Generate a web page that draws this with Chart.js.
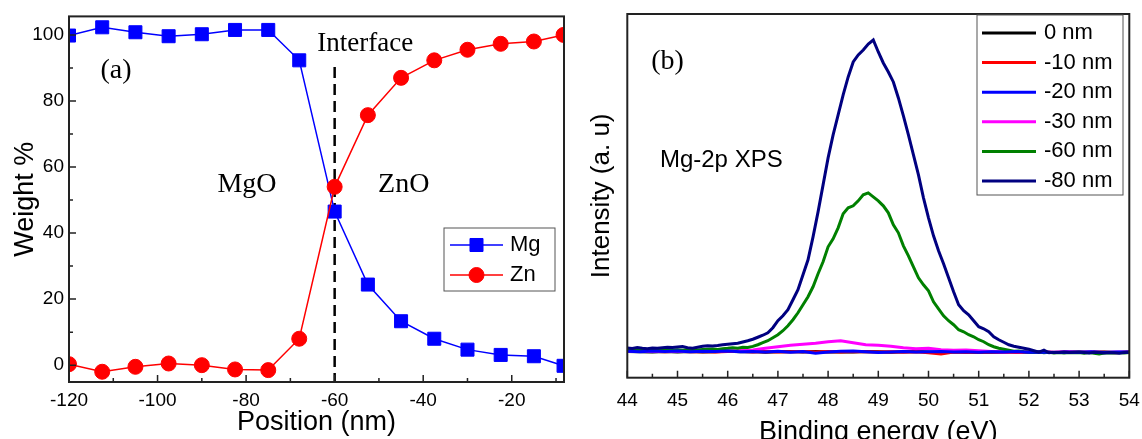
<!DOCTYPE html>
<html lang="en">
<head>
<meta charset="UTF-8">
<title>MgO / ZnO interface - EDX and XPS</title>
<script src="https://cdn.jsdelivr.net/npm/chart.js"></script>
<style>
  html, body { margin: 0; padding: 0; background: #fff; overflow: hidden; }
  #chartA { position: absolute; left: 0; top: 0; }
  #chartB { position: absolute; left: 575px; top: 0; }
</style>
</head>
<body>
<canvas id="chartA" width="575" height="439"></canvas>
<canvas id="chartB" width="567" height="450"></canvas>
<script>
// ---- (a) weight % across the interface ----
const position = [-120, -112.5, -105, -97.5, -90, -82.5, -75, -68, -60, -52.5, -45, -37.5, -30, -22.5, -15, -8.3];
const mgWeight = [99.8, 102.3, 100.8, 99.6, 100.2, 101.5, 101.5, 92.3, 46.5, 24.4, 13.3, 8.0, 4.7, 3.1, 2.7, -0.2];
const znWeight = [0.3, -2.0, -0.5, 0.5, 0, -1.3, -1.5, 8.0, 54.0, 75.7, 87.0, 92.3, 95.5, 97.3, 98.0, 100];
const interfaceX = -60;
const interfaceTop = 90.3;

// ---- (b) Mg-2p XPS depth profile ----
const energyFine = [
  44.0, 44.1, 44.2, 44.3, 44.4, 44.5, 44.6, 44.7, 44.8, 44.9,
  45.0, 45.1, 45.2, 45.3, 45.4, 45.5, 45.6, 45.7, 45.8, 45.9,
  46.0, 46.1, 46.2, 46.3, 46.4, 46.5, 46.6, 46.7, 46.8, 46.9,
  47.0, 47.1, 47.2, 47.3, 47.4, 47.5, 47.6, 47.7, 47.8, 47.9,
  48.0, 48.1, 48.2, 48.3, 48.4, 48.5, 48.6, 48.7, 48.8, 48.9,
  49.0, 49.1, 49.2, 49.3, 49.4, 49.5, 49.6, 49.7, 49.8, 49.9,
  50.0, 50.1, 50.2, 50.3, 50.4, 50.5, 50.6, 50.7, 50.8, 50.9,
  51.0, 51.1, 51.2, 51.3, 51.4, 51.5, 51.6, 51.7, 51.8, 51.9,
  52.0, 52.1, 52.2, 52.3, 52.4, 52.5, 52.6, 52.7, 52.8, 52.9,
  53.0, 53.1, 53.2, 53.3, 53.4, 53.5, 53.6, 53.7, 53.8, 53.9, 54.0
];
const energyCoarse = [
  44.0, 44.25, 44.5, 44.75, 45.0, 45.25, 45.5, 45.75, 46.0, 46.25,
  46.5, 46.75, 47.0, 47.25, 47.5, 47.75, 48.0, 48.25, 48.5, 48.75,
  49.0, 49.25, 49.5, 49.75, 50.0, 50.25, 50.5, 50.75, 51.0, 51.25,
  51.5, 51.75, 52.0, 52.25, 52.5, 52.75, 53.0, 53.25, 53.5, 53.75, 54.0
];
const depth0 = [26.3, 26.0, 25.6, 26.2, 25.8, 26.1, 25.7, 26.0, 26.4, 25.9, 26.2, 25.5, 26.0, 26.3, 25.8, 26.1, 25.6, 26.0, 25.7, 26.2, 25.9, 25.4, 25.9, 26.1, 25.6, 25.3, 25.9, 25.6, 25.2, 25.8, 25.5, 25.9, 25.3, 25.6, 25.1, 25.5, 25.8, 25.2, 25.6, 25.3, 25.6];
const depth10 = [26.6, 26.2, 26.5, 25.9, 26.4, 26.0, 26.3, 25.7, 26.1, 26.5, 25.8, 26.2, 25.6, 26.0, 26.3, 25.7, 26.1, 25.8, 26.3, 25.9, 25.6, 26.0, 25.5, 25.9, 25.0, 23.8, 25.6, 25.2, 25.8, 25.4, 25.7, 25.1, 25.5, 25.9, 25.3, 25.6, 25.2, 25.7, 25.4, 25.0, 25.7];
const depth20 = [26.5, 26.0, 26.8, 26.2, 26.6, 25.9, 26.4, 26.1, 26.7, 26.0, 26.3, 25.8, 26.5, 25.5, 26.2, 24.6, 25.8, 26.4, 26.8, 26.0, 25.3, 25.8, 26.2, 25.6, 25.9, 26.3, 25.7, 26.0, 25.4, 25.9, 25.6, 26.1, 25.5, 25.8, 25.2, 25.7, 25.4, 25.9, 25.3, 25.6, 25.8];
const depth30 = [26.5, 26.8, 26.2, 26.6, 26.3, 26.7, 26.4, 26.6, 26.9, 27.2, 27.8, 29.5, 31.0, 32.5, 33.5, 34.5, 36.0, 37.0, 35.0, 33.0, 32.5, 31.5, 30.0, 29.0, 29.5, 28.0, 27.5, 27.8, 27.0, 26.2, 25.8, 26.2, 25.6, 25.8, 25.4, 25.9, 25.5, 25.8, 25.3, 25.7, 25.5];
const depth60 = [
  27.5, 28.0, 27.2, 27.8, 27.4, 28.0, 27.6, 27.2, 27.7, 27.4,
  27.9, 27.5, 28.0, 28.4, 27.8, 28.2, 28.5, 28.8, 28.2, 29.0,
  29.4, 30.0, 29.6, 30.4, 30.2, 31.3, 33, 35, 37, 40,
  43, 47, 52, 58, 65, 73, 81, 91, 104, 116,
  131, 139, 150, 164, 170, 172, 177, 183, 185, 181,
  177, 172, 165, 153, 145, 132, 122, 111, 100, 93,
  87, 76, 69, 62, 57, 53, 48, 46, 43, 41,
  38, 36, 33, 31, 29.5, 28.5, 27.5, 26.5, 26.8, 26.0,
  25.5, 25.2, 25.8, 25.0, 25.4, 24.8, 25.2, 24.7, 25.3, 24.9,
  25.2, 24.5, 25.1, 24.4, 23.8, 24.6, 25.0, 24.7, 25.1, 24.8, 25.2
];
const depth80 = [
  29.7, 29.2, 30.2, 29.5, 29.0, 29.8, 29.4, 30.0, 30.4, 30.2,
  30.8, 31.2, 30.0, 29.5, 30.5, 31.4, 32.0, 31.8, 32.2, 33.0,
  33.5, 34.0, 34.5, 35.8, 37.0, 38.5, 40.5, 42.5, 45, 50,
  57, 62, 68, 78, 88, 103, 118, 141, 166, 193,
  220, 243, 263, 283, 301, 316, 323, 328, 334, 338,
  326, 315, 306, 296, 280, 262, 243, 223, 203, 180,
  160, 142, 127, 114, 100, 86, 73, 67, 63, 57,
  51, 49, 46, 41, 38, 35.5, 33, 31.5, 30.5, 29.5,
  28.5, 27, 25.5, 27.5, 25, 25.5, 25.2, 25.8, 25.2, 25.5,
  25.7, 25.2, 24.8, 25.4, 25.2, 24.7, 25.3, 25.0, 24.6, 25.2, 25.5
];

function pts(xs, ys) {
  return xs.map((v, i) => ({ x: v, y: ys[i] }));
}

Chart.defaults.font.family = 'Liberation Sans, Arial, sans-serif';
Chart.defaults.color = '#000';
Chart.defaults.animation = false;

// frame, inward ticks, free text and a hand placed legend
const decor = {
  id: 'decor',
  afterDatasetsDraw(chart, args, o) {
    const { ctx, chartArea: a, scales } = chart;
    ctx.save();
    ctx.strokeStyle = '#222';
    ctx.lineWidth = 1.5;

    const marks = (scale) => {
      const major = scale.ticks.map(t => t.value);
      const half = (major[1] - major[0]) / 2;
      const minor = [major[0] - half].concat(major.map(v => v + half));
      return { major, minor: minor.filter(v => v >= scale.min && v <= scale.max) };
    };
    ctx.beginPath();
    if (o.xTicks) {
      const m = marks(scales.x);
      m.major.forEach(v => { const p = scales.x.getPixelForValue(v); ctx.moveTo(p, a.bottom); ctx.lineTo(p, a.bottom - 7); });
      m.minor.forEach(v => { const p = scales.x.getPixelForValue(v); ctx.moveTo(p, a.bottom); ctx.lineTo(p, a.bottom - 4); });
    }
    if (o.yTicks) {
      const m = marks(scales.y);
      m.major.forEach(v => { const p = scales.y.getPixelForValue(v); ctx.moveTo(a.left, p); ctx.lineTo(a.left + 7, p); });
      m.minor.forEach(v => { const p = scales.y.getPixelForValue(v); ctx.moveTo(a.left, p); ctx.lineTo(a.left + 4, p); });
    }
    ctx.stroke();

    ctx.lineWidth = 2;
    ctx.strokeRect(a.left, a.top, a.right - a.left, a.bottom - a.top);

    (o.labels || []).forEach(l => {
      ctx.font = l.font;
      ctx.fillStyle = '#000';
      ctx.textAlign = l.align || 'center';
      ctx.textBaseline = 'middle';
      ctx.fillText(l.text, scales.x.getPixelForValue(l.x), scales.y.getPixelForValue(l.y));
    });

    const lg = o.legend;
    if (lg) {
      ctx.fillStyle = '#fff';
      ctx.fillRect(lg.left, lg.top, lg.width, lg.height);
      ctx.strokeStyle = '#555';
      ctx.lineWidth = 1;
      ctx.strokeRect(lg.left, lg.top, lg.width, lg.height);
      lg.items.forEach((idx, k) => {
        const ds = chart.data.datasets[idx];
        const yy = lg.firstRow + k * lg.rowGap;
        ctx.strokeStyle = ds.borderColor;
        ctx.lineWidth = ds.borderWidth;
        ctx.setLineDash([]);
        ctx.beginPath();
        ctx.moveTo(lg.lineFrom, yy);
        ctx.lineTo(lg.lineTo, yy);
        ctx.stroke();
        if (ds.pointRadius > 0) {
          ctx.fillStyle = ds.backgroundColor;
          ctx.strokeStyle = ds.borderColor;
          ctx.lineWidth = 1;
          Chart.helpers.drawPoint(ctx, { pointStyle: ds.pointStyle, radius: ds.pointRadius, rotation: 0, borderWidth: 1 },
            (lg.lineFrom + lg.lineTo) / 2, yy);
        }
        ctx.fillStyle = '#000';
        ctx.font = lg.font;
        ctx.textAlign = 'left';
        ctx.textBaseline = 'middle';
        ctx.fillText(ds.label, lg.textX, yy);
      });
    }
    ctx.restore();
  }
};

const noGrid = { display: false, drawTicks: false };

new Chart(document.getElementById('chartA'), {
  type: 'scatter',
  data: {
    datasets: [
      {
        label: 'Mg', data: pts(position, mgWeight), showLine: true,
        borderColor: '#0000ff', backgroundColor: '#0000ff', borderWidth: 1.5,
        pointStyle: 'rect', pointRadius: 9.2, pointBorderWidth: 1, clip: 0, order: 1
      },
      {
        label: 'Zn', data: pts(position, znWeight), showLine: true,
        borderColor: '#ff0000', backgroundColor: '#ff0000', borderWidth: 1.5,
        pointStyle: 'circle', pointRadius: 7.5, pointBorderWidth: 1, clip: 0, order: 0
      },
      {
        label: 'Interface', data: [{ x: interfaceX, y: interfaceTop }, { x: interfaceX, y: -5.1 }], showLine: true,
        borderColor: '#000', borderWidth: 2.5, borderDash: [11, 6], pointRadius: 0, clip: 0, order: 2
      }
    ]
  },
  options: {
    responsive: false,
    layout: { padding: { left: 0, top: 14, right: 11, bottom: 0 } },
    plugins: {
      legend: { display: false },
      tooltip: { enabled: false },
      decor: {
        xTicks: true, yTicks: true,
        labels: [
          { text: '(a)', x: -109.4, y: 89.3, font: '28px "Liberation Serif"' },
          { text: 'Interface', x: -53.1, y: 97.2, font: '27px "Liberation Serif"' },
          { text: 'MgO', x: -79.8, y: 54.6, font: '28px "Liberation Serif"' },
          { text: 'ZnO', x: -44.4, y: 54.6, font: '28px "Liberation Serif"' }
        ],
        legend: {
          left: 444, top: 228, width: 111, height: 63,
          lineFrom: 450, lineTo: 503, textX: 510, firstRow: 245, rowGap: 30,
          font: '22px "Liberation Sans"', items: [0, 1]
        }
      }
    },
    scales: {
      x: {
        type: 'linear', min: -120, max: -8.2,
        grid: noGrid, border: { display: false },
        ticks: { stepSize: 20, includeBounds: false, padding: 7, font: { size: 19 } },
        title: { display: true, text: 'Position (nm)', font: { size: 27 }, padding: { top: 0, bottom: 0 } },
        afterFit(scale) { scale.height = 57; scale.paddingLeft = 0; scale.paddingRight = 0; }
      },
      y: {
        min: -5.1, max: 105.6,
        grid: noGrid, border: { display: false },
        ticks: { stepSize: 20, includeBounds: false, padding: 5, font: { size: 19 } },
        title: { display: true, text: 'Weight %', font: { size: 27 }, padding: { top: 9, bottom: 0 } },
        afterFit(scale) { scale.width = 69; }
      }
    }
  },
  plugins: [decor]
});

const xpsColors = ['#000000', '#ff0000', '#0000ff', '#ff00ff', '#008000', '#000080'];
const xpsLabels = ['0 nm', '-10 nm', '-20 nm', '-30 nm', '-60 nm', '-80 nm'];
const xpsData = [
  pts(energyCoarse, depth0), pts(energyCoarse, depth10), pts(energyCoarse, depth20),
  pts(energyCoarse, depth30), pts(energyFine, depth60), pts(energyFine, depth80)
];
const xpsOrder = [5, 4, 1, 3, 2, 0];

new Chart(document.getElementById('chartB'), {
  type: 'scatter',
  data: {
    datasets: xpsLabels.map((lab, i) => ({
      label: lab, data: xpsData[i], showLine: true,
      borderColor: xpsColors[i], backgroundColor: xpsColors[i], borderWidth: 3,
      pointRadius: 0, clip: 0, order: xpsOrder[i]
    }))
  },
  options: {
    responsive: false,
    layout: { padding: { left: 0, top: 14, right: 12.7, bottom: 0 } },
    plugins: {
      legend: { display: false },
      tooltip: { enabled: false },
      decor: {
        xTicks: true, yTicks: false,
        labels: [
          { text: '(b)', x: 44.8, y: 316.5, font: '28px "Liberation Serif"' },
          { text: 'Mg-2p XPS', x: 44.65, y: 218, font: '24px "Liberation Sans"', align: 'left' }
        ],
        legend: {
          left: 402, top: 15, width: 146, height: 180,
          lineFrom: 407, lineTo: 461, textX: 469, firstRow: 33, rowGap: 29.6,
          font: '22px "Liberation Sans"', items: [0, 1, 2, 3, 4, 5]
        }
      }
    },
    scales: {
      x: {
        type: 'linear', min: 44, max: 54,
        grid: noGrid, border: { display: false },
        ticks: { stepSize: 1, padding: 12, font: { size: 19 } },
        title: { display: true, text: 'Binding energy (eV)', font: { size: 27 }, padding: { top: 0, bottom: 1 } },
        afterFit(scale) { scale.height = 72.3; scale.paddingLeft = 0; scale.paddingRight = 0; }
      },
      y: {
        min: 0, max: 364,
        grid: noGrid, border: { display: false },
        ticks: { display: false },
        title: { display: true, text: 'Intensity (a. u)', font: { size: 26 }, padding: { top: 11, bottom: 0 } },
        afterFit(scale) { scale.width = 52.3; }
      }
    }
  },
  plugins: [decor]
});
</script>
</body>
</html>
